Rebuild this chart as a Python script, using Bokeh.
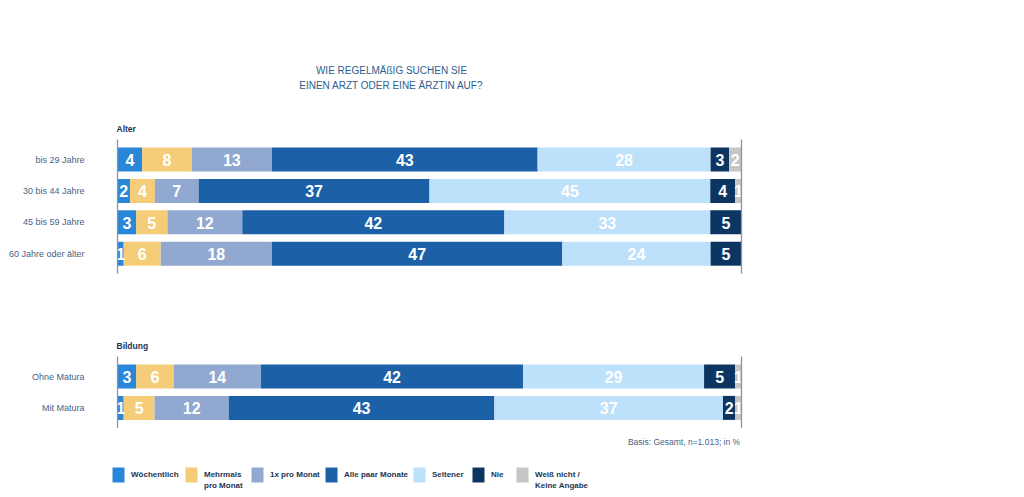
import numpy as np
from bokeh.plotting import figure
from bokeh.models import Range1d
from bokeh.core.properties import value
from bokeh.embed import file_html
from bokeh.resources import INLINE

# ---------------- data ----------------
title_lines = ["WIE REGELMÄßIG SUCHEN SIE", "EINEN ARZT ODER EINE ÄRZTIN AUF?"]
series = ["Wöchentlich", "Mehrmals pro Monat", "1x pro Monat", "Alle paar Monate",
          "Seltener", "Nie", "Weiß nicht / Keine Angabe"]
legend_labels = [["Wöchentlich"], ["Mehrmals", "pro Monat"], ["1x pro Monat"],
                 ["Alle paar Monate"], ["Seltener"], ["Nie"], ["Weiß nicht /", "Keine Angabe"]]
groups = ["Alter", "Bildung"]
alter_categories = ["bis 29 Jahre", "30 bis 44 Jahre", "45 bis 59 Jahre", "60 Jahre oder älter"]
bildung_categories = ["Ohne Matura", "Mit Matura"]
# rows: alter (4) then bildung (2)
woechentlich     = [4, 2, 3, 1, 3, 1]
mehrmals         = [8, 4, 5, 6, 6, 5]
einmal_monat     = [13, 7, 12, 18, 14, 12]
alle_paar_monate = [43, 37, 42, 47, 42, 43]
seltener         = [28, 45, 33, 24, 29, 37]
nie              = [3, 4, 5, 5, 5, 2]
weiss_nicht      = [2, 1, 0, 0, 1, 1]
footnote = "Basis: Gesamt, n=1.013; in  %"

# ---------------- styles / layout ----------------
colors = ["#2a87d8", "#f5cd78", "#91a9d1", "#1c61a8", "#bee1fb", "#0d3561", "#c6c6c6"]
W, H = 1016, 495
PX0, PX1 = 117, 741            # page px of 0 % and 100 %
scale = (PX1 - PX0) / 100.0


def dx(px):
    return (px - PX0) / scale


x_start = dx(0)
x_end = dx(W)
group_first_center = [159, 376]
row_step = 31.4
bar_h = 24
FONT = value("Liberation Sans")
NAVY = "#1c3553"
STEEL = "#44648a"

p = figure(width=W, height=H, x_range=Range1d(x_start, x_end), y_range=Range1d(H, 0),
           output_backend="svg", toolbar_location=None, min_border=0,
           x_axis_location=None, y_axis_location=None)
p.grid.visible = False
p.outline_line_color = None
p.background_fill_color = "white"
p.border_fill_color = "white"

all_series = [woechentlich, mehrmals, einmal_monat, alle_paar_monate, seltener, nie, weiss_nicht]
group_cats = [alter_categories, bildung_categories]

# row y positions
row_y = []
row_label = []
for g, cats in enumerate(group_cats):
    for i, c in enumerate(cats):
        row_y.append(group_first_center[g] + i * row_step)
        row_label.append(c)

vals = np.array(all_series, dtype=float)     # (series, rows)
totals = vals.sum(axis=0)
norm = vals / totals * 100.0
cum = np.cumsum(norm, axis=0)
lefts = cum - norm

bx_l, bx_r, by, bc, tx, ty, tt = [], [], [], [], [], [], []
for s in range(vals.shape[0]):
    for r in range(vals.shape[1]):
        if vals[s, r] <= 0:
            continue
        bx_l.append(lefts[s, r]); bx_r.append(cum[s, r]); by.append(row_y[r]); bc.append(colors[s])
        tx.append((lefts[s, r] + cum[s, r]) / 2); ty.append(row_y[r] + 0.5); tt.append(str(int(vals[s, r])))

p.hbar(y=by, left=bx_l, right=bx_r, height=bar_h, color=bc, line_color=None)
p.text(x=tx, y=ty, text=tt, text_align="center", text_baseline="middle",
       text_font=FONT, text_font_size="16px", text_font_style="bold", text_color="white")

# frame lines per group
seg_x0, seg_y0, seg_y1 = [], [], []
idx = 0
for g, cats in enumerate(group_cats):
    top = row_y[idx] - bar_h / 2 - 8
    bot = row_y[idx + len(cats) - 1] + bar_h / 2 + 8
    for xv in (0, 100):
        seg_x0.append(xv); seg_y0.append(top); seg_y1.append(bot)
    idx += len(cats)
p.segment(x0=seg_x0, x1=seg_x0, y0=seg_y0, y1=seg_y1, line_color="#8797ab", line_width=1.3)

# row labels
p.text(x=[dx(84)] * len(row_label), y=row_y, text=row_label, text_align="right",
       text_baseline="middle", text_font=FONT, text_font_size="9px", text_color=STEEL)

# group labels
idx = 0
gy = []
for g, cats in enumerate(group_cats):
    gy.append(row_y[idx] - bar_h / 2 - 19)
    idx += len(cats)
p.text(x=[dx(116)] * 2, y=gy, text=groups, text_align="left", text_baseline="middle",
       text_font=FONT, text_font_size="8.5px", text_font_style="bold", text_color=NAVY)

# title
p.text(x=[dx(391)] * 2, y=[70, 85], text=title_lines, text_align="center", text_baseline="middle",
       text_font=FONT, text_font_size="10px", text_color="#2e5d8e")

# footnote
p.text(x=[dx(742)], y=[441], text=[footnote], text_align="right", text_baseline="middle",
       text_font=FONT, text_font_size="8.5px", text_color=STEEL)

# legend
leg_left = [112, 185, 251, 325, 413, 472, 516]
leg_y = 474.5
p.rect(x=[dx(l + 6) for l in leg_left], y=[leg_y] * len(leg_left), width=12, height=15,
       width_units="screen", height_units="screen", color=colors, line_color=None)
lx, ly, lt = [], [], []
for i, lines in enumerate(legend_labels):
    for j, t in enumerate(lines):
        lx.append(dx(leg_left[i] + 18.5)); ly.append(leg_y - 1 + j * 11); lt.append(t)
p.text(x=lx, y=ly, text=lt, text_align="left", text_baseline="middle",
       text_font=FONT, text_font_size="8px", text_font_style="bold",
       text_color=NAVY)

open("out.html", "w").write(file_html(p, INLINE))
